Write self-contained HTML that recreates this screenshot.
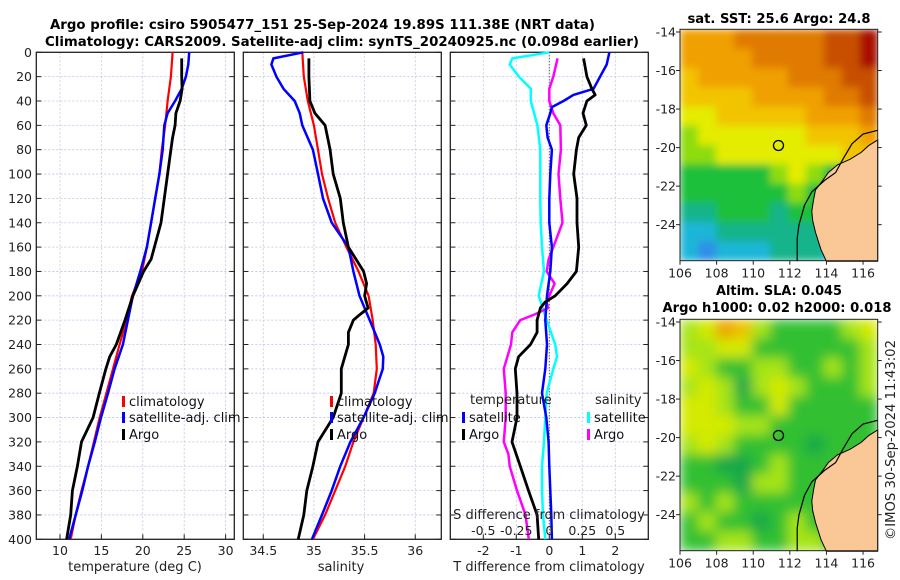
<!DOCTYPE html>
<html><head><meta charset="utf-8">
<style>
html,body{margin:0;padding:0;background:#fff;}
svg{display:block;font-family:"DejaVu Sans","Liberation Sans",sans-serif;}
</style></head>
<body>
<svg id="fig" width="900" height="580" viewBox="0 0 900 580" xmlns="http://www.w3.org/2000/svg">
<defs>
<filter id="blurSST" x="0" y="0" width="1" height="1"><feGaussianBlur stdDeviation="4" edgeMode="duplicate"/></filter>
<filter id="blurSLA" x="0" y="0" width="1" height="1"><feGaussianBlur stdDeviation="6" edgeMode="duplicate"/></filter>
<clipPath id="clipSST"><rect x="680" y="29.3" width="197.7" height="231.4"/></clipPath>
<clipPath id="clipSLA"><rect x="680" y="319.3" width="197.7" height="231.4"/></clipPath>
</defs>
<rect x="0" y="0" width="900" height="580" fill="#fff"/>
<text x="50" y="29" font-size="13" font-weight="bold" textLength="545" lengthAdjust="spacingAndGlyphs">Argo profile: csiro 5905477_151 25-Sep-2024 19.89S 111.38E (NRT data)</text>
<text x="45" y="46" font-size="13" font-weight="bold" textLength="594" lengthAdjust="spacingAndGlyphs">Climatology: CARS2009. Satellite-adj clim: synTS_20240925.nc (0.098d earlier)</text>
<g id="plots"></g>
<text x="779" y="23" font-size="13" font-weight="bold" text-anchor="middle" textLength="183" lengthAdjust="spacingAndGlyphs">sat. SST: 25.6 Argo: 24.8</text>
<text x="779" y="295" font-size="13" font-weight="bold" text-anchor="middle" textLength="126" lengthAdjust="spacingAndGlyphs">Altim. SLA: 0.045</text>
<text x="777" y="312" font-size="13" font-weight="bold" text-anchor="middle" textLength="229" lengthAdjust="spacingAndGlyphs">Argo h1000: 0.02 h2000: 0.018</text>
<text x="0" y="0" font-size="13" fill="#222" text-anchor="middle" transform="translate(895,440) rotate(-90)" textLength="200" lengthAdjust="spacingAndGlyphs">©IMOS 30-Sep-2024 11:43:02</text>
</svg>
<script>
// ---- profile data ----
const tDepth = [0,20,40,60,80,100,120,140,160,180,200,220,240,260,280,300,320,340,360,380,400];
const tClim = [23.6,23.4,23.0,22.7,22.3,22.0,21.5,21.0,20.5,19.9,18.7,18.05,17.2,16.4,15.6,14.8,14.1,13.4,12.6,11.9,11.3];
const tSatDepth = [0,10,20,30,40,50,60,80,100,120,140,160,180,200,220,240,260,280,300,320,340,360,380,400];
const tSat = [25.6,25.5,25.2,24.7,23.9,23.0,22.6,22.4,22.0,21.5,21.0,20.5,19.7,18.8,18.2,17.6,16.6,15.8,14.95,14.2,13.4,12.7,11.9,11.1];
const tArgoDepth = [5,20,30,40,50,60,70,80,100,120,140,160,170,180,200,220,240,250,260,280,300,320,340,360,380,400];
const tArgo = [24.7,24.7,24.75,24.5,24.0,23.9,23.6,23.4,23.0,22.6,22.2,21.4,21.0,20.1,18.8,17.85,16.8,16.0,15.55,14.75,14.0,12.6,12.1,11.5,11.3,10.8];

const sClim = [34.885,34.90,34.94,35.00,35.04,35.08,35.14,35.21,35.32,35.44,35.54,35.58,35.61,35.62,35.59,35.49,35.39,35.31,35.21,35.11,34.99];
const sSatDepth = [0,5,10,20,30,40,50,60,80,100,120,140,160,180,200,220,240,250,260,280,300,320,340,360,380,400];
const sSat = [34.895,34.6,34.58,34.63,34.70,34.81,34.86,34.885,34.99,35.04,35.09,35.175,35.34,35.39,35.45,35.55,35.65,35.685,35.68,35.60,35.49,35.36,35.26,35.175,35.08,34.98];
const sArgoDepth = [5,20,40,50,60,80,100,120,140,160,180,190,200,210,215,220,230,240,260,280,300,320,340,360,380,400];
const sArgo = [34.95,34.95,34.96,35.01,35.11,35.16,35.19,35.26,35.29,35.34,35.49,35.52,35.50,35.535,35.46,35.39,35.34,35.34,35.27,35.27,35.19,35.04,34.99,34.93,34.90,34.845];

const dTSatDepth = [0,10,20,30,35,40,45,50,60,70,80,100,120,140,160,180,200,220,240,260,280,300,320,340,360,380,400];
const dTSat = [1.82,1.74,1.54,1.34,0.73,0.43,0.08,0.03,-0.09,-0.05,0.08,0.03,0.0,0.0,0.08,0.03,-0.07,-0.12,-0.07,-0.12,-0.22,-0.09,-0.02,0.0,0.03,0.06,0.08];
const dTArgoDepth = [5,20,30,35,40,50,60,70,80,100,120,140,160,180,190,200,205,210,220,230,240,250,260,280,300,320,340,360,380,400];
const dTArgo = [1.04,1.14,1.29,1.39,1.14,1.02,1.12,0.89,0.82,0.74,0.84,0.84,0.89,0.82,0.54,0.18,-0.12,-0.27,-0.37,-0.37,-0.57,-0.93,-1.03,-0.98,-0.98,-1.13,-0.88,-0.63,-0.37,-0.32];
const dSSatDepth = [0,5,10,20,30,40,60,80,100,120,140,160,180,200,220,240,250,260,280,300,320,340,360,380,400];
const dSSat = [0,-0.28,-0.30,-0.23,-0.14,-0.14,-0.09,-0.068,-0.068,-0.068,-0.065,-0.055,-0.04,-0.08,-0.02,0.045,0.058,0.03,-0.02,-0.03,-0.04,-0.055,-0.055,-0.048,-0.03];
const dSArgoDepth = [5,20,30,40,50,60,80,100,120,140,160,170,180,190,200,205,210,215,220,230,240,260,280,300,320,330,340,360,380,400];
const dSArgo = [0.063,0.03,0,0,0.03,0.083,0.088,0.07,0.083,0.10,0.03,-0.005,-0.02,0.04,0.0,-0.02,-0.01,-0.105,-0.22,-0.28,-0.29,-0.345,-0.33,-0.33,-0.345,-0.31,-0.30,-0.245,-0.18,-0.155];

const depthTicks = [0,20,40,60,80,100,120,140,160,180,200,220,240,260,280,300,320,340,360,380,400];
const tTicks = [10,15,20,25,30];
const sTicks = [34.5,35,35.5,36];
const dTTicks = [-2,-1,0,1,2];
const dSTickLabels = ["-0.5","-0.25","0","0.25","0.5"];
const dSTickVals = [-0.5,-0.25,0,0.25,0.5];

// ---- map data (levels) ----
const sstGrid = [
[6,6,6,7,7,7,7,7,8,8,9],
[6,6,6,6,7,7,7,7,8,8,9],
[5,6,6,6,6,6,7,7,7,8,8],
[5,5,5,5,6,6,6,6,7,7,8],
[4,4,5,5,5,5,5,6,6,6,7],
[3,4,4,4,4,4,4,5,5,5,6],
[3,3,4,4,4,4,4,4,4,5,5],
[2,2,2,2,2,3,4,3,2,3,4],
[2,2,2,2,2,2,3,2,2,2,3],
[1,1,2,2,2,1,2,2,2,2,2],
[0,0,1,1,1,1,1,1,1,1,1],
[0,-1,0,0,0,1,1,1,0,0,0]];
const sstColors = {"-1":"#2f8fe6","0":"#1fb6d8","1":"#12b48a","2":"#1cc03a","3":"#8edc10","4":"#e4ec00","5":"#f2c400","6":"#f0a000","7":"#e07a00","8":"#c85000","9":"#a81000"};
const slaGrid = [
[3,4,6,5,3,2,2,2,2,3,4],
[3,3,4,4,2,2,2,2,2,2,3],
[4,3,2,2,3,3,2,2,3,2,3],
[3,4,3,1,3,4,3,2,2,2,3],
[4,4,3,2,2,4,2,2,2,2,2],
[4,4,4,3,3,2,2,2,2,2,2],
[3,4,3,2,2,2,2,1,2,2,2],
[2,2,1,1,2,3,2,2,2,2,2],
[2,2,2,1,3,3,2,2,2,2,2],
[3,2,3,2,2,2,2,2,2,2,2],
[2,3,2,2,1,2,3,2,2,2,2],
[2,2,3,3,2,2,3,3,2,2,2]];
const slaColors = {"1":"#14a848","2":"#30c030","3":"#a6e412","4":"#d4ea00","5":"#ecc400","6":"#eca200"};
const lonTicks = [106,108,110,112,114,116];
const latTicks = [-14,-16,-18,-20,-22,-24];
const argoLon = 111.38, argoLat = -19.89;
const landLon = [116.8,116.3,115.9,115.3,114.6,114.1,113.8,113.4,113.3,113.2,113.25,113.4,113.7,114.0,116.8];
const landLat = [-19.6,-19.9,-20.25,-20.6,-20.9,-21.3,-21.7,-22.2,-22.7,-23.3,-23.8,-24.4,-25.3,-25.9,-25.9];
const contourLon = [116.8,116.0,115.4,114.9,114.5,113.9,113.2,112.8,112.5,112.4,112.4,112.4];
const contourLat = [-19.1,-19.3,-19.8,-20.6,-21.3,-21.7,-22.3,-23.0,-24.0,-24.7,-25.3,-25.9];

const NS = "http://www.w3.org/2000/svg";
const root = document.getElementById('plots');
function mk(tag, attrs, parent) {
  const e = document.createElementNS(NS, tag);
  for (const k in attrs) e.setAttribute(k, attrs[k]);
  (parent || root).appendChild(e);
  return e;
}
const Y0 = 52.3, Y1 = 539.3;
function yD(d) { return Y0 + d / 400 * (Y1 - Y0); }

function panel(name, x0, x1, vmin, vmax, ticks, labels) {
  const g = mk('g', {});
  
  
  const sx = v => x0 + (v - vmin) / (vmax - vmin) * (x1 - x0);
  depthTicks.forEach(d => {
    const gl = mk('line', {x1: x0, x2: x1, y1: yD(d), y2: yD(d), stroke: '#b8c4ee', 'stroke-width': 0.8, 'stroke-dasharray': '2,2'}, g);
    
    
    const t1 = mk('line', {x1: x0, x2: x0 + 5, y1: yD(d), y2: yD(d), stroke: '#222', 'stroke-width': 1}, g);
    
    
    const t2 = mk('line', {x1: x1 - 5, x2: x1, y1: yD(d), y2: yD(d), stroke: '#222', 'stroke-width': 1}, g);
    
    
  });
  ticks.forEach((v, i) => {
    const gl = mk('line', {x1: sx(v), x2: sx(v), y1: Y0, y2: Y1, stroke: '#c8c0e8', 'stroke-width': 0.8, 'stroke-dasharray': '2,2'}, g);
    
    
    const tk = mk('line', {x1: sx(v), x2: sx(v), y1: Y1, y2: Y1 - 5, stroke: '#222', 'stroke-width': 1}, g);
    
    
    const lb = mk('text', {x: sx(v), y: 555, 'font-size': 12.5, fill: '#222', 'text-anchor': 'middle'}, g);
    
    
    lb.textContent = labels ? labels[i] : String(v);
  });
  const fr = mk('rect', {x: x0, y: Y0, width: x1 - x0, height: Y1 - Y0, fill: 'none', stroke: '#222', 'stroke-width': 1.3}, g);
  
  
  return {g, sx};
}
function series(p, depths, vals, scale, color, w, name) {
  const pts = depths.map((d, i) => scale(vals[i]).toFixed(1) + ',' + yD(d).toFixed(1)).join(' ');
  const l = mk('polyline', {points: pts, fill: 'none', stroke: color, 'stroke-width': w, 'stroke-linejoin': 'round'}, p.g);
  
  
}
function legendItem(g, x, y, color, label, name) {
  const b = mk('rect', {x: x, y: y - 9, width: 3, height: 11, fill: color}, g);
  
  
  const t = mk('text', {x: x + 7, y: y + 1, 'font-size': 13, fill: '#111'}, g);
  
  
  t.textContent = label;
}
function txt(g, x, y, s, label, name, anchor) {
  const t = mk('text', {x: x, y: y, 'font-size': s, fill: '#222', 'text-anchor': anchor || 'middle'}, g);
  
  
  t.textContent = label;
  return t;
}

depthTicks.forEach(d => {
  txt(root, 32, yD(d) + 4.5, 12.5, String(d), 'depth-tick-label', 'end');
});

const p1 = panel('temperature-panel', 36.3, 234.3, 7.14, 31.05, tTicks);
series(p1, tDepth, tClim, p1.sx, '#ff0000', 2.2, 'temp-climatology-line');
series(p1, tSatDepth, tSat, p1.sx, '#0000ff', 2.5, 'temp-satellite-line');
series(p1, tArgoDepth, tArgo, p1.sx, '#000000', 2.8, 'temp-argo-line');
legendItem(p1.g, 122, 405, '#ff0000', 'climatology', 'legend-climatology');
legendItem(p1.g, 122, 421, '#0000ff', 'satellite-adj. clim', 'legend-satellite');
legendItem(p1.g, 122, 438, '#000000', 'Argo', 'legend-argo');
txt(p1.g, 135, 571, 13, 'temperature (deg C)', 'temperature-axis-title');

const p2 = panel('salinity-panel', 243.3, 441.3, 34.303, 36.257, sTicks);
series(p2, tDepth, sClim, p2.sx, '#ff0000', 2.2, 'sal-climatology-line');
series(p2, sSatDepth, sSat, p2.sx, '#0000ff', 2.5, 'sal-satellite-line');
series(p2, sArgoDepth, sArgo, p2.sx, '#000000', 2.8, 'sal-argo-line');
legendItem(p2.g, 330, 405, '#ff0000', 'climatology', 'legend-climatology');
legendItem(p2.g, 330, 421, '#0000ff', 'satellite-adj. clim', 'legend-satellite');
legendItem(p2.g, 330, 438, '#000000', 'Argo', 'legend-argo');
txt(p2.g, 341, 571, 13, 'salinity', 'salinity-axis-title');

const p3 = panel('difference-panel', 450.3, 648.3, -3, 3, dTTicks);
const sxS = v => p3.sx(v * 4);
const zl = mk('line', {x1: p3.sx(0), x2: p3.sx(0), y1: Y0, y2: Y1, stroke: '#333', 'stroke-width': 1, 'stroke-dasharray': '1,2'}, p3.g);


series(p3, dSSatDepth, dSSat, sxS, '#00ffff', 2.5, 'sal-diff-satellite-line');
series(p3, dSArgoDepth, dSArgo, sxS, '#ff00ff', 2.5, 'sal-diff-argo-line');
series(p3, dTSatDepth, dTSat, p3.sx, '#0000ff', 2.5, 'temp-diff-satellite-line');
series(p3, dTArgoDepth, dTArgo, p3.sx, '#000000', 2.8, 'temp-diff-argo-line');
txt(p3.g, 470, 404, 13, 'temperature', 'legend-temperature-heading', 'start');
legendItem(p3.g, 462, 421, '#0000ff', 'satellite', 'legend-temp-satellite');
legendItem(p3.g, 462, 438, '#000000', 'Argo', 'legend-temp-argo');
txt(p3.g, 595, 404, 13, 'salinity', 'legend-salinity-heading', 'start');
legendItem(p3.g, 587, 421, '#00ffff', 'satellite', 'legend-sal-satellite');
legendItem(p3.g, 587, 438, '#ff00ff', 'Argo', 'legend-sal-argo');
txt(p3.g, 549, 519, 13, 'S difference from climatology', 'sal-diff-axis-title');
dSTickVals.forEach((v, i) => { txt(p3.g, sxS(v), 535, 12.5, dSTickLabels[i], 'sal-diff-tick-label'); });
txt(p3.g, 549, 571, 13, 'T difference from climatology', 'temp-diff-axis-title');

function drawMap(name, top, bottom, grid, colors, filt, clip) {
  const L = 680, R = 877.7;
  const lonMin = 106, lonMax = 116.8;
  const latTop = -13.86, latBot = -25.87;
  const mx = lon => L + (lon - lonMin) / (lonMax - lonMin) * (R - L);
  const my = lat => top + (latTop - lat) / (latTop - latBot) * (bottom - top);
  const g = mk('g', {});
  
  
  const cg = mk('g', {'clip-path': 'url(#' + clip + ')'}, g);
  
  
  const bg = mk('g', {filter: 'url(#' + filt + ')'}, cg);
  const rows = grid.length, cols = grid[0].length;
  const cw = (R - L) / cols, ch = (bottom - top) / rows;
  grid.forEach((row, r) => row.forEach((v, c) => {
    const cell = mk('rect', {x: L + c * cw, y: top + r * ch, width: cw + 0.6, height: ch + 0.6, fill: colors[String(v)]}, bg);
    
    
  }));
  const land = mk('polygon', {points: landLon.map((lo, i) => mx(lo).toFixed(1) + ',' + my(landLat[i]).toFixed(1)).join(' '), fill: '#f9c896', stroke: '#000', 'stroke-width': 1}, g);
  
  
  const ct = mk('polyline', {points: contourLon.map((lo, i) => mx(lo).toFixed(1) + ',' + my(contourLat[i]).toFixed(1)).join(' '), fill: 'none', stroke: '#000', 'stroke-width': 1.2}, g);
  
  
  const ci = mk('circle', {cx: mx(argoLon), cy: my(argoLat), r: 5, fill: 'none', stroke: '#000', 'stroke-width': 1.3}, g);
  
  
  const fr = mk('rect', {x: L, y: top, width: R - L, height: bottom - top, fill: 'none', stroke: '#222', 'stroke-width': 1}, g);
  
  
  lonTicks.forEach(lo => {
    const tk = mk('line', {x1: mx(lo), x2: mx(lo), y1: bottom, y2: bottom + 4, stroke: '#222'}, g);
    
    
    txt(g, mx(lo), bottom + 17, 12.5, String(lo), 'lon-tick-label');
  });
  latTicks.forEach(la => {
    const tk = mk('line', {x1: L - 4, x2: L, y1: my(la), y2: my(la), stroke: '#222'}, g);
    
    
    const tk2 = mk('line', {x1: R, x2: R + 4, y1: my(la), y2: my(la), stroke: '#222'}, g);
    
    
    txt(g, L - 4, my(la) + 4.5, 12.5, String(la), 'lat-tick-label', 'end');
  });
}
drawMap('sst-map', 29.3, 260.7, sstGrid, sstColors, 'blurSST', 'clipSST');
drawMap('sla-map', 319.3, 550.7, slaGrid, slaColors, 'blurSLA', 'clipSLA');
</script>
</body></html>
